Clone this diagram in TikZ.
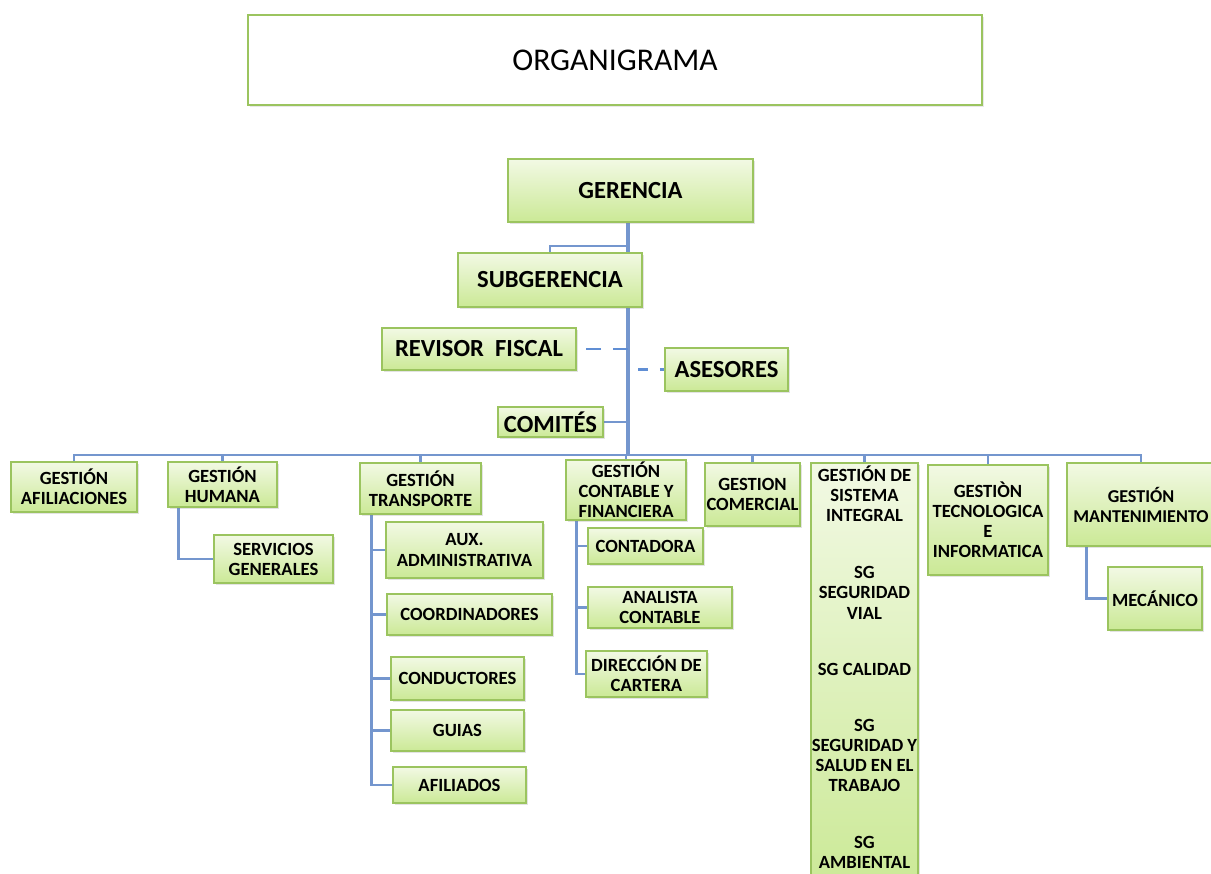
\documentclass[tikz,border=0pt]{standalone}
\usepackage{fontspec}
\setmainfont{Carlito}
\usetikzlibrary{positioning,shadows,backgrounds}

\definecolor{boxgreen}{RGB}{155,196,95}
\definecolor{filltop}{RGB}{242,249,228}
\definecolor{fillbot}{RGB}{203,233,150}
\definecolor{lineblue}{RGB}{116,150,206}
\definecolor{dashblue}{RGB}{96,142,212}

\begin{document}
\begin{tikzpicture}[
    x=0.02cm, y=-0.02cm,
    font=\bfseries\fontsize{10.6}{11.4}\selectfont,
    % --- node styles ---
    box/.style = {rectangle, draw=boxgreen, line width=1pt, align=center,
                  inner sep=1pt, top color=filltop, bottom color=fillbot,
                  drop shadow={opacity=0.22, shadow xshift=1.2pt, shadow yshift=-1.2pt}},
    bigbox/.style = {box, font=\bfseries\fontsize{14}{16}\selectfont},
    titlebox/.style = {rectangle, draw=boxgreen, line width=1.3pt, fill=white,
                  font=\fontsize{18}{20}\selectfont,
                  drop shadow={opacity=0.18, shadow xshift=1.2pt, shadow yshift=-1.2pt}},
    spine/.style  = {draw=lineblue, line width=2.2pt},
    link/.style   = {draw=lineblue, line width=1.6pt},
    dlink/.style  = {draw=dashblue, line width=1.6pt, dash pattern=on 0.3cm off 0.24cm},
]
\useasboundingbox (0,0) rectangle (1211,873);

%============ TITLE ============
\node (title) [titlebox, minimum width=14.68cm, minimum height=1.8cm] at (615,60) {ORGANIGRAMA};

%============ TOP LEVEL ============
\node (ger) [bigbox, minimum width=4.9cm, minimum height=1.26cm] at (630.5,190.5) {GERENCIA};
\node (sub) [bigbox, minimum width=3.68cm, minimum height=1.08cm] at (550,280) {SUBGERENCIA};
\node (rev) [bigbox, minimum width=3.88cm, minimum height=0.84cm] at (479,349) {REVISOR\ \ FISCAL};
\node (ase) [bigbox, minimum width=2.46cm, minimum height=0.86cm] at (726.5,369.5) {ASESORES};
\node (com) [bigbox, minimum width=2.1cm, minimum height=0.6cm] at (550.5,422) {COMITÉS};

%============ AREAS ============
\node (afil)  [box, minimum width=2.52cm, minimum height=1.0cm]  at (74,487)     {GESTIÓN\\AFILIACIONES};
\node (hum)   [box, minimum width=2.18cm, minimum height=0.9cm]  at (222.5,484.5) {GESTIÓN\\HUMANA};
\node (trans) [box, minimum width=2.42cm, minimum height=1.02cm] at (420.5,488.5) {GESTIÓN\\TRANSPORTE};
\node (cont)  [box, minimum width=2.4cm,  minimum height=1.08cm] at (626,490)     {GESTIÓN\\CONTABLE Y\\FINANCIERA};
\node (comer) [box, minimum width=1.86cm, minimum height=1.26cm] at (752.5,494.5) {GESTION\\COMERCIAL};
\node (sis)   [box, minimum width=2.14cm, minimum height=8.6cm]  at (864.5,678) {};
\node (sistxt) [anchor=north, align=center] at (864.5,460)
  {GESTIÓN DE\\SISTEMA\\INTEGRAL\\[0.74cm]SG\\SEGURIDAD\\VIAL\\[0.72cm]SG CALIDAD\\[0.72cm]SG\\SEGURIDAD Y\\SALUD EN EL\\TRABAJO\\[0.74cm]SG\\AMBIENTAL};
\node (tec)   [box, minimum width=2.4cm,  minimum height=2.2cm]  at (988,520)     {GESTIÒN\\TECNOLOGICA\\E\\INFORMATICA};
\node (mant)  [box, font=\bfseries\fontsize{10.3}{11.4}\selectfont,
               minimum width=2.96cm, minimum height=1.66cm] at (1141,504.5)  {GESTIÓN\\MANTENIMIENTO};

%============ SUB AREAS ============
\node (serv)  [box, minimum width=2.38cm, minimum height=0.96cm] at (273.5,559) {SERVICIOS\\GENERALES};

\node (aux)   [box, minimum width=3.14cm, minimum height=1.12cm] at (464.5,550)   {AUX.\\ADMINISTRATIVA};
\node (coord) [box, minimum width=3.3cm,  minimum height=0.82cm] at (469.5,614.5) {COORDINADORES};
\node (cond)  [box, minimum width=2.66cm, minimum height=0.86cm] at (457.5,678.5) {CONDUCTORES};
\node (guias) [box, minimum width=2.66cm, minimum height=0.82cm] at (457.5,730.5) {GUIAS};
\node (afild) [box, minimum width=2.66cm, minimum height=0.72cm] at (459.5,785)   {AFILIADOS};

\node (contad) [box, minimum width=2.3cm,  minimum height=0.72cm] at (645.5,546) {CONTADORA};
\node (anal)   [box, minimum width=2.88cm, minimum height=0.82cm] at (660,607.5) {ANALISTA\\CONTABLE};
\node (dir)    [box, minimum width=2.42cm, minimum height=0.92cm] at (646.5,674) {DIRECCIÓN DE\\CARTERA};

\node (mec)   [box, minimum width=1.88cm, minimum height=1.26cm] at (1155,598.5) {MECÁNICO};

%============ CONNECTORS ============
\coordinate (bar)  at (628,455);
\coordinate (subj) at (628,246);

\begin{scope}[on background layer]
  % main spine and branch bar
  \draw[spine] (ger.south -| bar) -- (bar);
  \draw[link] (afil.north) |- (bar) -| (mant.north);
  \foreach \n in {hum,trans,cont,comer,sis,tec}
    \draw[link] (\n.north) -- (\n.north |- bar);

  % staff units on the spine
  \draw[link] (sub.north) |- (subj);
  \draw[link] (com.east) -- (com.east -| bar);
  \draw[dlink, shorten >=0.18cm] (rev.east -| bar) -- (rev.east);
  \draw[dlink, dash pattern=on 0.2cm off 0.24cm, shorten <=0.2cm] (ase.west -| bar) -- (ase.west);

  % sub trees
  \draw[link] ([xshift=0.22cm]hum.south west) |- (serv.west);
  \foreach \c in {aux,coord,cond,guias,afild}
    \draw[link] ([xshift=0.24cm]trans.south west) |- (\c.west);
  \foreach \c in {contad,anal,dir}
    \draw[link] ([xshift=0.22cm]cont.south west) |- (\c.west);
  \draw[link] ([xshift=0.4cm]mant.south west) |- (mec.west);
\end{scope}

\end{tikzpicture}
\end{document}
